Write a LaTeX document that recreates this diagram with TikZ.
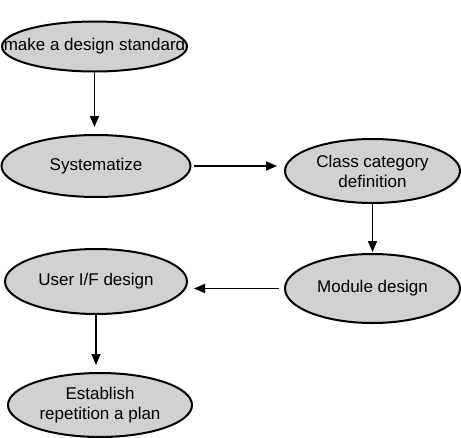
\documentclass[tikz,border=0pt]{standalone}
\usepackage{fontspec}
\setmainfont{Liberation Sans}
\usetikzlibrary{shapes.geometric,arrows.meta}
\begin{document}
\begin{tikzpicture}[x=1pt,y=-1pt,
  lbl/.style={font=\fontsize{17}{20}\selectfont, align=center, inner sep=0pt},
  stage/.style={ellipse, draw=black, line width=2pt, fill=black!18,
    inner sep=0pt, lbl},
  flow/.style={line width=1.6pt, -{Triangle[length=11pt,width=9pt]}}]
\clip (0,0) rectangle (461,437);

% process stages
\node[stage, minimum width=185pt, minimum height=50pt,
  path picture={\node[lbl] at (path picture bounding box.center) {make a design standard};}]
  (std) at (94.5,46.5) {};
\node[stage, minimum width=189pt, minimum height=62pt] (sys) at (96,166) {Systematize};
\node[stage, minimum width=175pt, minimum height=64pt] (cls) at (372.5,171) {Class category\\definition};
\node[stage, minimum width=175pt, minimum height=69pt] (mod) at (372.5,288.5) {Module design};
\node[stage, minimum width=182pt, minimum height=65pt] (ui) at (96,281.5) {User I/F design};
\node[stage, minimum width=184pt, minimum height=64pt] (est) at (100,405) {Establish\\repetition a plan};

% connectors
\draw[flow, shorten >=7pt] (std.south) -- (std.south |- sys.north);
\draw[flow, shorten <=2pt, shorten >=7pt] (sys.east) -- (sys.east -| cls.west);
\draw[flow, shorten >=1pt] (cls.south) -- (cls.south |- mod.north);
\draw[flow, shorten <=5pt, shorten >=6pt] (mod.west) -- (mod.west -| ui.east);
\draw[flow, shorten >=7pt] (ui.south) -- (ui.south |- est.north);
\end{tikzpicture}
\end{document}
